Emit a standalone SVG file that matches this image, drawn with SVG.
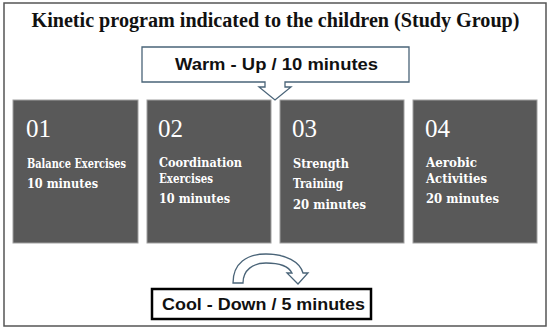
<svg xmlns="http://www.w3.org/2000/svg" width="550" height="332" viewBox="0 0 550 332">
<style>
.title{font-family:"Liberation Serif","DejaVu Serif",serif;font-weight:bold;font-size:20px;fill:#111}
.callout{font-family:"Liberation Sans",Arial,sans-serif;font-weight:bold;font-size:16px;fill:#111}
.box{fill:#595959;stroke:#a0a0a0;stroke-width:1}
.num{font-family:"Liberation Serif","DejaVu Serif",serif;font-size:25px;fill:#fff}
.lbl{font-family:"DejaVu Serif","Liberation Serif",serif;font-weight:bold;font-size:12px;fill:#fff}
.arrow{fill:#fff;stroke:#4a6478;stroke-width:1.3;stroke-linejoin:miter}
</style>
<rect x="0" y="0" width="550" height="332" fill="#fff"/>
<rect x="4" y="3" width="542" height="323" fill="#fff" stroke="#555" stroke-width="1.5"/>
<text class="title" x="31.5" y="27.3" textLength="488" lengthAdjust="spacingAndGlyphs">Kinetic program indicated to the children (Study Group)</text>

<g id="warmup">
<path class="arrow" d="M142,47 H409 V82 H285 V87 H291 L275,100 L259,87 H265 V82 H142 Z"/>
<text class="callout" x="175" y="70" textLength="203" lengthAdjust="spacingAndGlyphs">Warm - Up / 10 minutes</text>
</g>

<g id="box1">
<rect class="box" x="13" y="100" width="125" height="143"/>
<text class="num" x="26" y="136.5">01</text>
<text class="lbl" x="27" y="168" textLength="99" lengthAdjust="spacingAndGlyphs">Balance Exercises</text>
<text class="lbl" x="27" y="188" textLength="71" lengthAdjust="spacingAndGlyphs">10 minutes</text>
</g>
<g id="box2">
<rect class="box" x="147" y="100" width="124" height="143"/>
<text class="num" x="158" y="136.5">02</text>
<text class="lbl" x="159" y="167" textLength="83" lengthAdjust="spacingAndGlyphs">Coordination</text>
<text class="lbl" x="159" y="183" textLength="54" lengthAdjust="spacingAndGlyphs">Exercises</text>
<text class="lbl" x="159" y="203" textLength="71" lengthAdjust="spacingAndGlyphs">10 minutes</text>
</g>
<g id="box3">
<rect class="box" x="280" y="100" width="124" height="143"/>
<text class="num" x="292" y="136.5">03</text>
<text class="lbl" x="293" y="168" textLength="56" lengthAdjust="spacingAndGlyphs">Strength</text>
<text class="lbl" x="293" y="188" textLength="50" lengthAdjust="spacingAndGlyphs">Training</text>
<text class="lbl" x="293" y="209" textLength="73" lengthAdjust="spacingAndGlyphs">20 minutes</text>
</g>
<g id="box4">
<rect class="box" x="413" y="100" width="124" height="143"/>
<text class="num" x="425" y="136.5">04</text>
<text class="lbl" x="426" y="167" textLength="51" lengthAdjust="spacingAndGlyphs">Aerobic</text>
<text class="lbl" x="426" y="183" textLength="61" lengthAdjust="spacingAndGlyphs">Activities</text>
<text class="lbl" x="426" y="203" textLength="73" lengthAdjust="spacingAndGlyphs">20 minutes</text>
</g>

<g id="connectors">
<path class="arrow" d="M233,283 C233,263 247,254 266,254 C286,254 300,262 303,273 L308,273 L298,284 L287,273 L292,273 C289,267 280,263 266,263 C253,263 243,270 243,283 Z"/>
</g>

<g id="cooldown">
<rect x="152" y="289" width="219" height="30" fill="#fff" stroke="#000" stroke-width="2.5"/>
<text class="callout" x="162" y="310" textLength="203" lengthAdjust="spacingAndGlyphs">Cool - Down / 5 minutes</text>
</g>
</svg>
